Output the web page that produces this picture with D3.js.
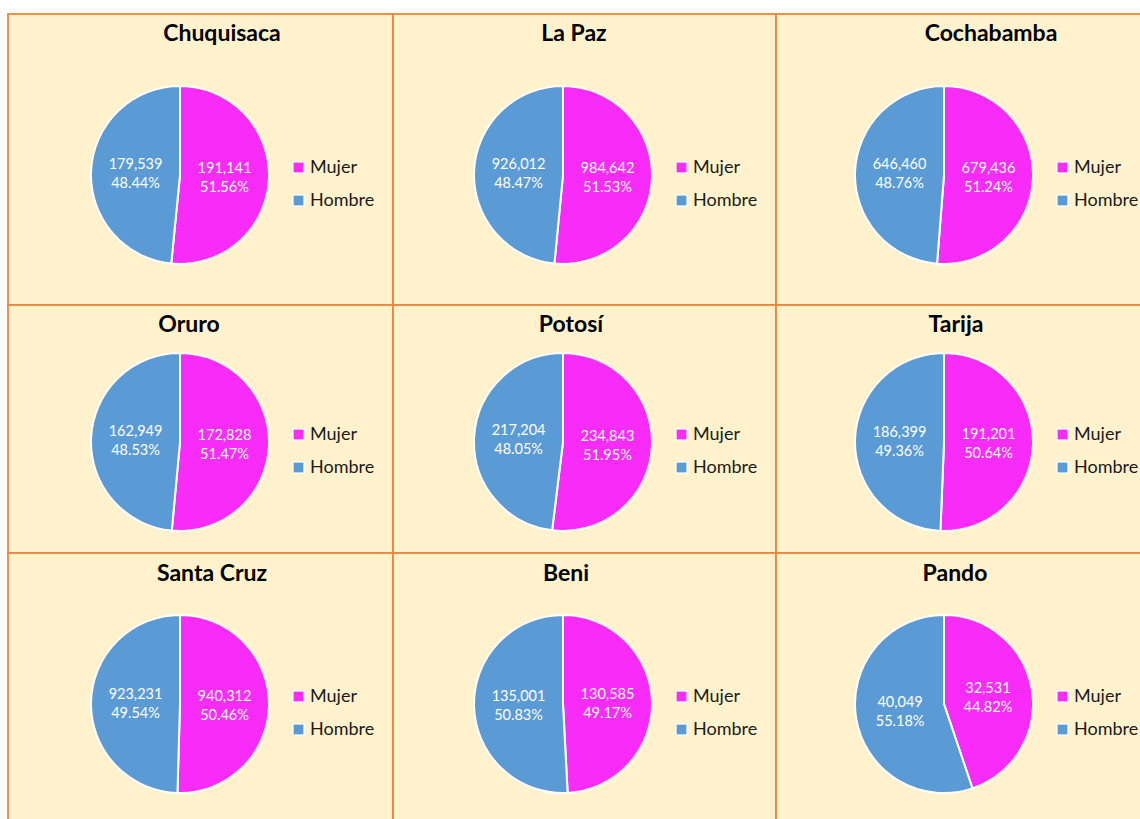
<!DOCTYPE html>
<html>
<head>
<meta charset="utf-8">
<script src="https://cdn.jsdelivr.net/npm/d3@7"></script>
<style>
  body { margin: 0; background: #fff; }
  svg { display: block; }
</style>
</head>
<body>
<svg></svg>
<script>
// data
var departamentos = ["Chuquisaca", "La Paz", "Cochabamba", "Oruro", "Potosí", "Tarija", "Santa Cruz", "Beni", "Pando"];
var mujer  = [191141, 984642, 679436, 172828, 234843, 191201, 940312, 130585, 32531];
var hombre = [179539, 926012, 646460, 162949, 217204, 186399, 923231, 135001, 40049];
var series = ["Mujer", "Hombre"];

// layout of the 3x3 grid
var width = 1140, height = 819;
var colX0 = [8, 393, 776], colW = [385, 383, 400];
var rowY0 = [14, 305, 553], rowH = [291, 248, 300];
var pieX = [180, 563, 944], pieY = [175, 442, 704];
var titleX = [222, 574, 991, 189, 571, 956, 212, 566, 955];
var titleY = [41, 332, 581];
var radius = 89;

var color = d3.scaleOrdinal().domain(series).range(["#F92BF9", "#5B9BD5"]);
var fmtNum = d3.format(",");
var fmtPct = d3.format(".2%");

var svg = d3.select("svg")
  .attr("width", width)
  .attr("height", height);

var pie = d3.pie().sort(null).value(function (d) { return d.value; });
var arc = d3.arc().innerRadius(0).outerRadius(radius);
var labelArc = d3.arc().innerRadius(0).outerRadius(radius);

departamentos.forEach(function (name, i) {
  var r = Math.floor(i / 3), c = i % 3;
  var total = mujer[i] + hombre[i];
  var slices = [
    {key: "Mujer", value: mujer[i]},
    {key: "Hombre", value: hombre[i]}
  ];

  var g = svg.append("g");

  // panel
  g.append("rect")
    .attr("x", colX0[c])
    .attr("y", rowY0[r])
    .attr("width", colW[c])
    .attr("height", rowH[r])
    .attr("fill", "#FFF2CC")
    .attr("stroke", "#F0843A")
    .attr("stroke-width", 1.8);

  g.append("text")
    .attr("x", titleX[i])
    .attr("y", titleY[r])
    .attr("text-anchor", "middle")
    .attr("font-family", "Lato, 'Open Sans', sans-serif")
    .attr("font-weight", "bold")
    .attr("font-size", "23px")
    .attr("fill", "#000")
    .text(name);

  var p = g.append("g")
    .attr("transform", "translate(" + pieX[c] + "," + pieY[r] + ")");

  var arcs = pie(slices);

  p.selectAll("path")
    .data(arcs)
    .enter()
    .append("path")
    .attr("d", arc)
    .attr("fill", function (d) { return color(d.data.key); })
    .attr("stroke", "#fff")
    .attr("stroke-width", 2);

  var lbl = p.selectAll("text.lbl")
    .data(arcs)
    .enter()
    .append("text")
    .attr("class", "lbl")
    .attr("transform", function (d) { return "translate(" + labelArc.centroid(d) + ")"; })
    .attr("text-anchor", "middle")
    .attr("font-family", "Lato, 'Open Sans', sans-serif")
    .attr("font-size", "14.5px")
    .attr("fill", "#fff");

  lbl.append("tspan")
    .attr("x", 0)
    .attr("y", -4)
    .text(function (d) { return fmtNum(d.data.value); });
  lbl.append("tspan")
    .attr("x", 0)
    .attr("y", 15)
    .text(function (d) { return fmtPct(d.data.value / total); });

  // legend
  var leg = p.selectAll("g.leg")
    .data(series)
    .enter()
    .append("g")
    .attr("class", "leg")
    .attr("transform", function (d, k) { return "translate(113," + (-8 + k * 33) + ")"; });

  leg.append("rect")
    .attr("x", 0)
    .attr("y", -5)
    .attr("width", 11)
    .attr("height", 11)
    .attr("fill", function (d) { return color(d); })
    .attr("stroke", "#fff")
    .attr("stroke-width", 1.2);

  leg.append("text")
    .attr("x", 17)
    .attr("y", 6)
    .attr("font-family", "Lato, 'Open Sans', sans-serif")
    .attr("font-size", "18px")
    .attr("fill", "#1a1a1a")
    .text(function (d) { return d; });
});
</script>
</body>
</html>
